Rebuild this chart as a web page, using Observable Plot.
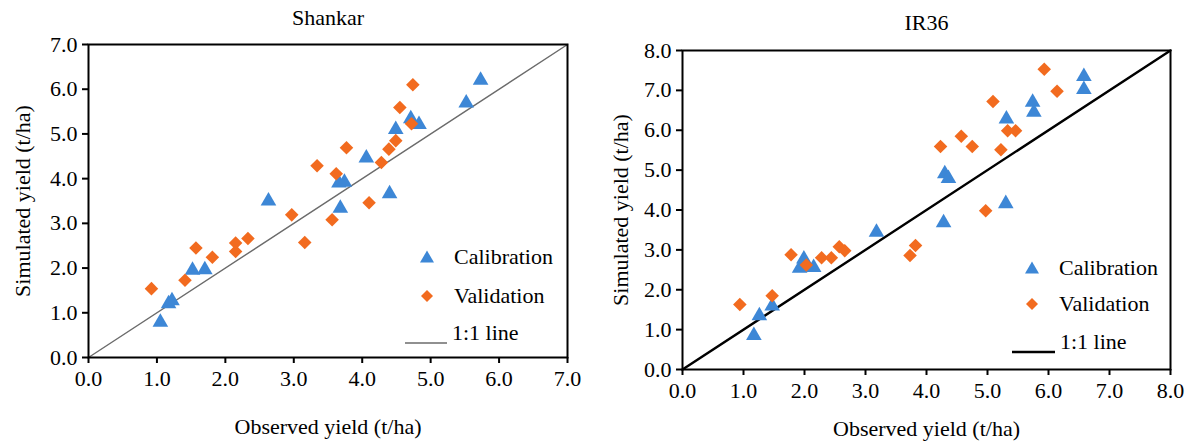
<!DOCTYPE html>
<html><head><meta charset="utf-8">
<script src="https://cdn.jsdelivr.net/npm/d3@7"></script>
<script src="https://cdn.jsdelivr.net/npm/@observablehq/plot@0.6"></script>
<style>
body{margin:0;background:#fff;}
#wrap{position:relative;width:1195px;height:441px;overflow:hidden;background:#fff;font-family:"Liberation Serif","DejaVu Serif",serif;}
.panel{position:absolute;top:0;}
.lg{position:absolute;font-size:22px;line-height:1;color:#000;white-space:nowrap;transform:translateY(-50%);}
.sym{position:absolute;}
</style></head><body><div id="wrap"></div>
<script>
// ---- Data: Shankar ----
const shankarCalObs = [1.05, 1.17, 1.22, 1.52, 1.70, 2.63, 3.68, 3.66, 3.74, 4.06, 4.40, 4.49, 4.71, 4.83, 5.52, 5.73];
const shankarCalSim = [0.79, 1.20, 1.27, 1.95, 1.96, 3.50, 3.34, 3.90, 3.92, 4.46, 3.66, 5.10, 5.34, 5.21, 5.69, 6.20];
const shankarValObs = [0.92, 1.41, 1.57, 1.81, 2.15, 2.15, 2.33, 2.97, 3.16, 3.34, 3.56, 3.62, 3.77, 4.10, 4.28, 4.39, 4.49, 4.55, 4.72, 4.74];
const shankarValSim = [1.54, 1.73, 2.45, 2.24, 2.37, 2.56, 2.66, 3.19, 2.57, 4.29, 3.08, 4.11, 4.69, 3.46, 4.36, 4.66, 4.85, 5.59, 5.23, 6.10];
// ---- Data: IR36 ----
const ir36CalObs = [1.17, 1.26, 1.47, 1.92, 1.99, 2.15, 3.18, 4.28, 4.30, 4.36, 5.30, 5.31, 5.74, 5.76, 6.58, 6.58];
const ir36CalSim = [0.85, 1.35, 1.59, 2.54, 2.77, 2.56, 3.44, 3.68, 4.91, 4.79, 4.16, 6.28, 6.70, 6.45, 7.35, 7.02];
const ir36ValObs = [0.94, 1.47, 1.78, 2.03, 2.28, 2.44, 2.57, 2.66, 3.73, 3.82, 4.23, 4.57, 4.75, 4.97, 5.09, 5.22, 5.33, 5.46, 5.93, 6.14];
const ir36ValSim = [1.63, 1.85, 2.88, 2.62, 2.80, 2.80, 3.08, 2.98, 2.86, 3.11, 5.59, 5.85, 5.59, 3.98, 6.72, 5.51, 5.99, 5.99, 7.53, 6.98];
// ---- Axes ----
const shankarTicks = [0, 1, 2, 3, 4, 5, 6, 7];
const ir36Ticks = [0, 1, 2, 3, 4, 5, 6, 7, 8];
const titles = ["Shankar", "IR36"];
const xLabel = "Observed yield (t/ha)";
const yLabel = "Simulated yield (t/ha)";
const seriesNames = ["Calibration", "Validation", "1:1 line"];

const BLUE = "#3d87d6", ORANGE = "#f26b1f";
const FONT = "'Liberation Serif', 'DejaVu Serif', serif";

const diamond = {
  draw(ctx, size) {
    const r = Math.sqrt(size / 2);
    ctx.moveTo(0, -r); ctx.lineTo(r, 0); ctx.lineTo(0, r); ctx.lineTo(-r, 0); ctx.closePath();
  }
};

function panel(o) {
  const cal = o.calObs.map((x, i) => ({x, y: o.calSim[i]}));
  const val = o.valObs.map((x, i) => ({x, y: o.valSim[i]}));
  const domain = [o.ticks[0], o.ticks[o.ticks.length - 1]];
  const diag = domain.map(v => ({x: v, y: v}));
  const fmt = d => d.toFixed(1);
  return Plot.plot({
    width: o.width, height: 441,
    marginLeft: o.ml, marginRight: o.mr, marginTop: o.mt, marginBottom: o.mb,
    x: {domain}, y: {domain},
    style: {fontFamily: FONT, fontSize: "22px", background: "transparent", color: "#000", overflow: "visible"},
    marks: [
      Plot.line(diag, {x: "x", y: "y", stroke: o.lineColor, strokeWidth: o.lineWidth}),
      Plot.dot(cal, {x: "x", y: "y", symbol: "triangle", r: 5.8, fill: BLUE}),
      Plot.dot(val, {x: "x", y: "y", symbol: diamond, r: 5.4, fill: ORANGE}),
      Plot.frame({stroke: "#000", strokeWidth: 2}),
      Plot.axisX({ticks: o.ticks, tickFormat: fmt, tickSize: 6, tickPadding: 7, fontSize: 22, strokeWidth: 2, label: null, fontFamily: FONT}),
      Plot.axisY({ticks: o.ticks, tickFormat: fmt, tickSize: 6, tickPadding: 5, fontSize: 22, strokeWidth: 2, label: null, fontFamily: FONT}),
      Plot.text([o.title], {text: d => d, frameAnchor: "top", dy: o.titleDy, lineAnchor: "middle", fontSize: 22, fontFamily: FONT}),
      Plot.text([xLabel], {text: d => d, frameAnchor: "bottom", dy: o.xlabDy, lineAnchor: "middle", fontSize: 22, fontFamily: FONT}),
      Plot.text([yLabel], {text: d => d, frameAnchor: "left", dx: o.ylabDx, rotate: -90, textAnchor: "middle", lineAnchor: "middle", fontSize: 22, fontFamily: FONT})
    ]
  });
}

const wrap = document.getElementById("wrap");

const p1 = panel({calObs: shankarCalObs, calSim: shankarCalSim, valObs: shankarValObs, valSim: shankarValSim,
  ticks: shankarTicks, title: titles[0], width: 600, ml: 88, mr: 33, mt: 44, mb: 84,
  lineColor: "#6b6b6b", lineWidth: 1.4, titleDy: -27, xlabDy: 69, ylabDx: -66});
p1.classList.add("panel"); p1.style.left = "0px";
wrap.appendChild(p1);

const p2 = panel({calObs: ir36CalObs, calSim: ir36CalSim, valObs: ir36ValObs, valSim: ir36ValSim,
  ticks: ir36Ticks, title: titles[1], width: 595, ml: 82, mr: 25, mt: 50, mb: 72,
  lineColor: "#000", lineWidth: 2.4, titleDy: -28, xlabDy: 59, ylabDx: -62});
p2.classList.add("panel"); p2.style.left = "600px";
wrap.appendChild(p2);

// ---- Legends (HTML overlay) ----
function legend(L) {
  const tri = `<svg width="16" height="14" viewBox="-8 -7 16 14"><path d="M0,-6.5L7,5.5L-7,5.5Z" fill="${BLUE}"/></svg>`;
  const dia = `<svg width="14" height="14" viewBox="-7 -7 14 14"><path d="M0,-6L6,0L0,6L-6,0Z" fill="${ORANGE}"/></svg>`;
  const line = `<svg width="${L.lx2 - L.lx1}" height="4"><line x1="0" x2="${L.lx2 - L.lx1}" y1="2" y2="2" stroke="${L.lineColor}" stroke-width="${L.lineWidth}"/></svg>`;
  const add = (html, left, top, cls) => {
    const d = document.createElement("div");
    d.className = cls; d.innerHTML = html;
    d.style.left = left + "px"; d.style.top = top + "px";
    wrap.appendChild(d);
    return d;
  };
  add(tri, L.sx - 8, L.y[0] - 7, "sym");
  add(seriesNames[0], L.tx, L.y[0], "lg");
  add(dia, L.sx - 7, L.y[1] - 7, "sym");
  add(seriesNames[1], L.tx, L.y[1], "lg");
  add(line, L.lx1, L.y[2] - 2, "sym");
  add(seriesNames[2], L.lx2 + 5, L.y[2], "lg");
}
legend({sx: 427, tx: 454, y: [257, 296, 333], lx1: 405, lx2: 447, lineColor: "#6b6b6b", lineWidth: 1.4});
legend({sx: 1032, tx: 1059, y: [268, 304, 342], lx1: 1012, lx2: 1055, lineColor: "#000", lineWidth: 2.4});
</script>
</body></html>
